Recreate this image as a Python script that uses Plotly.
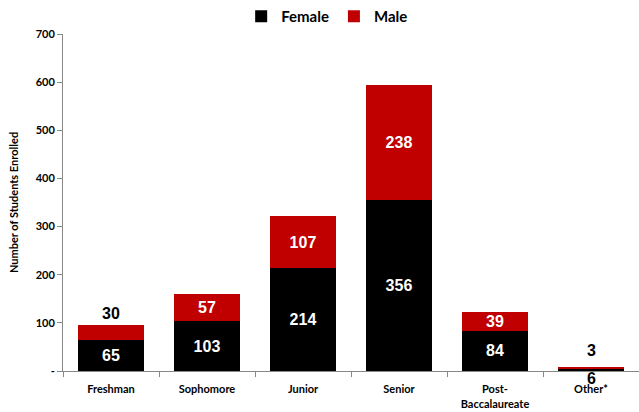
import plotly.graph_objects as go

categories = ["Freshman", "Sophomore", "Junior", "Senior", "Post-<br>Baccalaureate", "Other*"]
female = [65, 103, 214, 356, 84, 6]
male = [30, 57, 107, 238, 39, 3]

FONT = "Lato"
LFONT = "Liberation Sans"
LABEL_SIZE = 16

female_text = [str(v) for v in female]
female_text[-1] = ""
male_text = [str(v) for v in male]
male_text[-1] = ""
male_pos = ["outside" if i == 0 else "inside" for i in range(len(male))]
male_colors = ["black" if i == 0 else "white" for i in range(len(male))]

fig = go.Figure()
fig.add_trace(go.Bar(
    x=categories, y=female, name="Female", marker=dict(color="#000000", line=dict(width=0)),
    text=female_text, textposition="inside", insidetextanchor="middle", textangle=0,
    textfont=dict(family=LFONT, size=LABEL_SIZE, color="white", weight="bold"),
    constraintext="none",
))
fig.add_trace(go.Bar(
    x=categories, y=male, name="Male", marker=dict(color="#C00000", line=dict(width=0)),
    text=male_text, textposition=male_pos, insidetextanchor="middle", textangle=0,
    textfont=dict(family=LFONT, size=LABEL_SIZE, color=male_colors, weight="bold"),
    constraintext="none", cliponaxis=False,
))
# labels of the thin "Other*" bar
fig.add_annotation(x=categories[-1], y=female[-1] + male[-1], text=str(male[-1]), showarrow=False,
                   yanchor="bottom", yshift=6,
                   font=dict(family=LFONT, size=LABEL_SIZE, color="black", weight="bold"))
fig.add_annotation(x=categories[-1], y=0, text=str(female[-1]), showarrow=False,
                   yanchor="top", yshift=3,
                   font=dict(family=LFONT, size=LABEL_SIZE, color="black", weight="bold"))

fig.update_layout(
    barmode="stack", bargap=0.32,
    width=639, height=412,
    margin=dict(l=63, r=0, t=34, b=41, autoexpand=False),
    paper_bgcolor="white", plot_bgcolor="white",
    font=dict(family=FONT, color="black"),
    legend=dict(orientation="h", x=0.512, xanchor="center", xref="container",
                y=1.0, yanchor="top", yref="container",
                font=dict(family=FONT, size=15, color="black", weight="bold"),
                traceorder="normal", itemwidth=30),
    showlegend=True,
)
fig.update_xaxes(
    automargin=False,
    showline=True, linecolor="#888888", linewidth=1,
    ticks="outside", tickson="boundaries", ticklen=5, tickcolor="#888888",
    tickfont=dict(family=FONT, size=11, color="black", weight="bold"),
    ticklabelstandoff=8,
    showgrid=False,
)
fig.update_yaxes(
    automargin=False,
    range=[0, 700], tickvals=[0, 100, 200, 300, 400, 500, 600, 700],
    ticktext=["-", "100", "200", "300", "400", "500", "600", "700"],
    showline=True, linecolor="#888888", linewidth=1,
    ticks="outside", ticklen=5, tickcolor="#888888",
    tickfont=dict(family=FONT, size=11, color="black", weight="bold"),
    showgrid=False, zeroline=False,
    title=dict(text="Number of Students Enrolled",
               font=dict(family=FONT, size=11, color="black", weight="bold"), standoff=14),
)
fig.write_html("out.html", config={"displayModeBar": False},
               post_script="document.body.style.margin='0';document.body.style.overflow='hidden';")
